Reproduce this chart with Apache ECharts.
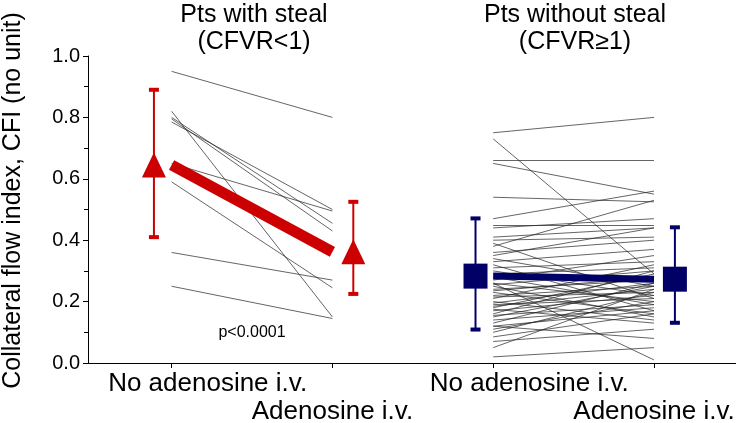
<!DOCTYPE html>
<html><head><meta charset="utf-8">
<script src="https://cdn.jsdelivr.net/npm/echarts@6/dist/echarts.min.js"></script>
<style>html,body{margin:0;padding:0;background:#fff}#c{width:736px;height:423px}</style>
</head><body><div id="c"></div>
<script>
// ---- data ----
const categories = ['No adenosine i.v.', 'Adenosine i.v.', 'No adenosine i.v.', 'Adenosine i.v.'];
const categoryX = [1, 2, 3, 4];
const panelTitles = ['Pts with steal\n(CFVR<1)', 'Pts without steal\n(CFVR\u22651)'];
const pValueText = 'p<0.0001';
const yAxisTitle = 'Collateral flow index, CFI (no unit)';

const stealPre  = [0.95, 0.82, 0.80, 0.795, 0.785, 0.65, 0.59, 0.36, 0.25];
const stealPost = [0.80, 0.15, 0.455, 0.43, 0.50, 0.495, 0.245, 0.27, 0.145];
const stealMean = [0.645, 0.362];
const stealLow  = [0.41, 0.225];
const stealHigh = [0.89, 0.525];

const noStealPre  = [0.75,0.73,0.66,0.65,0.54,0.47,0.45,0.44,0.41,0.40,0.39,0.38,0.36,0.35,0.34,0.33,0.32,0.31,0.30,0.29,0.28,0.27,0.26,0.255,0.25,0.24,0.235,0.23,0.22,0.215,0.21,0.20,0.195,0.19,0.185,0.18,0.175,0.17,0.16,0.155,0.15,0.14,0.13,0.12,0.11,0.10,0.085,0.07,0.05,0.02,0.26,0.12];
const noStealPost = [0.80,0.29,0.66,0.55,0.525,0.56,0.45,0.47,0.44,0.41,0.21,0.53,0.40,0.44,0.25,0.37,0.17,0.33,0.22,0.31,0.19,0.35,0.20,0.30,0.15,0.27,0.28,0.16,0.25,0.23,0.32,0.14,0.26,0.21,0.24,0.29,0.13,0.22,0.30,0.19,0.25,0.18,0.26,0.08,0.20,0.23,0.16,0.11,0.24,0.05,0.01,0.17];
const noStealMean = [0.283, 0.273];
const noStealLow  = [0.109, 0.131];
const noStealHigh = [0.471, 0.442];

// ---- styling / layout constants ----
const FONT = "'Liberation Sans', Arial, Helvetica, sans-serif";
const RED = '#cc0000';
const NAVY = '#000066';
const markerShift = [-0.11, 0.13]; // horizontal shift of summary markers from category position

function pairLines(pre, post, x0, x1) {
  return pre.map((v, i) => ({ coords: [[x0, v], [x1, post[i]]] }));
}
function errData(xs, lo, hi) {
  return xs.map((x, i) => [x + markerShift[i], lo[i], hi[i]]);
}
function errSeries(data, color) {
  return {
    type: 'custom', z: 4, data: data,
    encode: { x: 0, y: [1, 2] },
    renderItem: function (params, api) {
      const x = api.value(0);
      const pLo = api.coord([x, api.value(1)]);
      const pHi = api.coord([x, api.value(2)]);
      return { type: 'group', children: [
        { type: 'line', shape: { x1: pLo[0], y1: pLo[1], x2: pHi[0], y2: pHi[1] }, style: { stroke: color, lineWidth: 2 } },
        { type: 'rect', shape: { x: pHi[0] - 5, y: pHi[1] - 2, width: 10, height: 4 }, style: { fill: color } },
        { type: 'rect', shape: { x: pLo[0] - 5, y: pLo[1] - 2, width: 10, height: 4 }, style: { fill: color } }
      ]};
    }
  };
}

const chart = echarts.init(document.getElementById('c'), null, { renderer: 'canvas' });
chart.setOption({
  animation: false,
  backgroundColor: '#fff',
  textStyle: { fontFamily: FONT },
  grid: { left: 88, right: 0, top: 56, bottom: 60, containLabel: false, outerBoundsMode: 'none' },
  xAxis: {
    type: 'value', min: 0.48, max: 4.51,
    splitLine: { show: false },
    axisLine: { show: true, onZero: false, lineStyle: { color: '#000', width: 1 } },
    axisTick: { show: true, customValues: categoryX, length: 5, lineStyle: { color: '#000' } },
    axisLabel: {
      customValues: categoryX, margin: 8, color: '#000', fontSize: 26, fontFamily: FONT,
      formatter: function (v) {
        const i = categoryX.indexOf(Math.round(v));
        if (i < 0) return '';
        return (i % 2 === 0 ? '{a|' : '{b|') + categories[i] + '}';
      },
      rich: {
        a: { fontSize: 26, fontFamily: FONT, color: '#000', padding: [0, 0, 0, 72] },
        b: { fontSize: 26, fontFamily: FONT, color: '#000', padding: [28, 0, 0, 0] }
      }
    }
  },
  yAxis: {
    type: 'value', min: 0, max: 1, interval: 0.2,
    splitLine: { show: false },
    axisLine: { show: true, lineStyle: { color: '#000', width: 1 } },
    axisTick: { show: true, length: 5, lineStyle: { color: '#000' } },
    minorTick: { show: true, splitNumber: 2, length: 4, lineStyle: { color: '#000' } },
    axisLabel: { formatter: v => v.toFixed(1), fontSize: 20, margin: 8, color: '#000', fontFamily: FONT },
    name: yAxisTitle, nameLocation: 'middle', nameRotate: 90, nameGap: 62,
    nameTextStyle: { fontSize: 25, color: '#000', fontFamily: FONT, padding: [0, 0, 0, 18] }
  },
  graphic: [
    { type: 'text', x: 254, y: 2, style: { text: panelTitles[0], font: '25px ' + FONT, fill: '#000', textAlign: 'center', textVerticalAlign: 'top', lineHeight: 27 } },
    { type: 'text', x: 575, y: 2, style: { text: panelTitles[1], font: '25px ' + FONT, fill: '#000', textAlign: 'center', textVerticalAlign: 'top', lineHeight: 27 } },
    { type: 'text', x: 252, y: 333, style: { text: pValueText, font: '16px ' + FONT, fill: '#000', textAlign: 'center', textVerticalAlign: 'middle' } }
  ],
  series: [
    { type: 'lines', coordinateSystem: 'cartesian2d', z: 1, silent: true,
      lineStyle: { color: '#222', width: 0.7, opacity: 1 },
      data: pairLines(stealPre, stealPost, categoryX[0], categoryX[1]) },
    { type: 'lines', coordinateSystem: 'cartesian2d', z: 1, silent: true,
      lineStyle: { color: '#222', width: 0.7, opacity: 1 },
      data: pairLines(noStealPre, noStealPost, categoryX[2], categoryX[3]) },
    { type: 'line', z: 3, showSymbol: false, symbol: 'none',
      lineStyle: { color: RED, width: 11, cap: 'butt' },
      data: [[categoryX[0], stealMean[0]], [categoryX[1], stealMean[1]]] },
    { type: 'line', z: 3, showSymbol: false, symbol: 'none',
      lineStyle: { color: NAVY, width: 7, cap: 'butt' },
      data: [[categoryX[2], noStealMean[0]], [categoryX[3], noStealMean[1]]] },
    errSeries(errData([categoryX[0], categoryX[1]], stealLow, stealHigh), RED),
    errSeries(errData([categoryX[2], categoryX[3]], noStealLow, noStealHigh), NAVY),
    { type: 'scatter', z: 5, symbol: 'triangle', symbolSize: [24, 25],
      itemStyle: { color: RED, opacity: 1 },
      data: [[categoryX[0] + markerShift[0], stealMean[0]], [categoryX[1] + markerShift[1], stealMean[1]]] },
    { type: 'scatter', z: 5, symbol: 'rect', symbolSize: [24, 25],
      itemStyle: { color: NAVY, opacity: 1 },
      data: [[categoryX[2] + markerShift[0], noStealMean[0]], [categoryX[3] + markerShift[1], noStealMean[1]]] }
  ]
});
</script>
</body></html>
